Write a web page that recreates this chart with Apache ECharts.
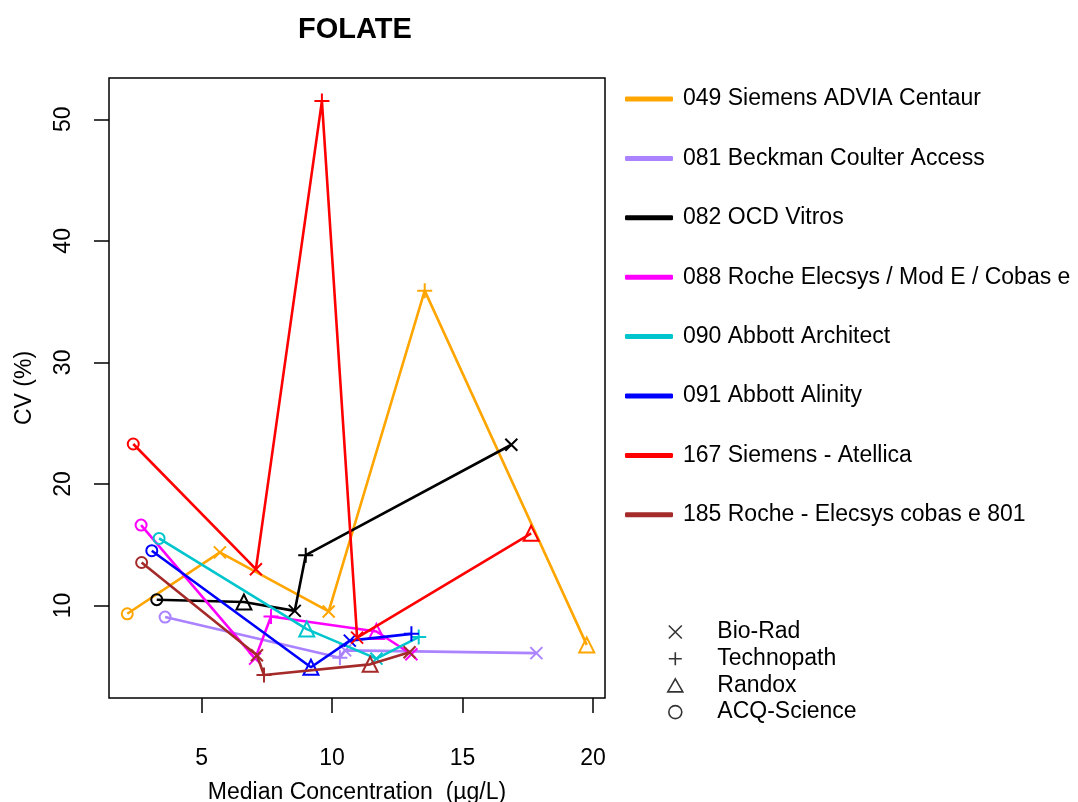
<!DOCTYPE html>
<html>
<head>
<meta charset="utf-8">
<script src="https://cdn.jsdelivr.net/npm/echarts@6/dist/echarts.min.js"></script>
<style>
  html, body { margin: 0; padding: 0; background: #fff; }
  #chart { width: 1078px; height: 802px; }
</style>
</head>
<body>
<div id="chart"></div>
<script>
// methods (legend order) and their colours
const methodNames = [
  '049 Siemens ADVIA Centaur',
  '081 Beckman Coulter Access',
  '082 OCD Vitros',
  '088 Roche Elecsys / Mod E / Cobas e',
  '090 Abbott Architect',
  '091 Abbott Alinity',
  '167 Siemens - Atellica',
  '185 Roche - Elecsys cobas e 801'
]
const methodColors = ['#FFA500', '#AB82FF', '#000000', '#FF00FF', '#00C5CD', '#0000FF', '#FF0000', '#A52A2A']

// control material manufacturers (point shape)
const makers = ['Bio-Rad', 'Technopath', 'Randox', 'ACQ-Science']

// median concentration (ug/L), CV (%), manufacturer per point
const x049 = [2.15, 5.70, 9.87, 13.55, 19.76]
const y049 = [9.31, 14.36, 9.50, 35.90, 6.75]
const m049 = ['ACQ-Science', 'Bio-Rad', 'Bio-Rad', 'Technopath', 'Randox']

const x081 = [3.60, 10.30, 10.50, 17.83]
const y081 = [9.04, 5.70, 6.30, 6.07]
const m081 = ['ACQ-Science', 'Technopath', 'Bio-Rad', 'Bio-Rad']

const x082 = [3.28, 6.62, 8.57, 8.99, 16.87]
const y082 = [10.47, 10.28, 9.55, 14.13, 23.22]
const m082 = ['ACQ-Science', 'Randox', 'Bio-Rad', 'Technopath', 'Bio-Rad']

const x088 = [2.68, 7.05, 7.66, 11.70, 13.04]
const y088 = [16.61, 5.62, 9.08, 7.85, 5.98]
const m088 = ['ACQ-Science', 'Bio-Rad', 'Technopath', 'Randox', 'Bio-Rad']

const x090 = [3.37, 9.03, 11.70, 13.32]
const y090 = [15.51, 8.05, 5.62, 7.39]
const m090 = ['ACQ-Science', 'Randox', 'Bio-Rad', 'Technopath']

const x091 = [3.09, 9.19, 10.68, 13.04]
const y091 = [14.50, 4.91, 7.10, 7.66]
const m091 = ['ACQ-Science', 'Randox', 'Bio-Rad', 'Technopath']

const x167 = [2.38, 7.08, 9.61, 10.96, 17.63]
const y167 = [23.28, 12.98, 51.50, 7.35, 15.93]
const m167 = ['ACQ-Science', 'Bio-Rad', 'Technopath', 'Bio-Rad', 'Randox']

const x185 = [2.70, 7.12, 7.39, 11.46, 12.97]
const y185 = [13.53, 5.90, 4.27, 5.15, 6.15]
const m185 = ['ACQ-Science', 'Bio-Rad', 'Technopath', 'Randox', 'Bio-Rad']

const xTicks = [5, 10, 15, 20]
const yTicks = [10, 20, 30, 40, 50]

const xs = [x049, x081, x082, x088, x090, x091, x167, x185]
const ys = [y049, y081, y082, y088, y090, y091, y167, y185]
const ms = [m049, m081, m082, m088, m090, m091, m167, m185]

const FONT = '"Liberation Sans", Arial, sans-serif'

// open R-like symbols
const shapes = {
  'Bio-Rad': { symbol: 'path://M0,0L10,10M10,0L0,10', size: 12 },
  'Technopath': { symbol: 'path://M5,0L5,10M0,5L10,5', size: 15 },
  'Randox': { symbol: 'path://M5,0L10,8.66L0,8.66Z', size: 15 },
  'ACQ-Science': { symbol: 'circle', size: 11 }
}

let series = methodNames.map((name, i) => ({
  name: name,
  type: 'line',
  showSymbol: true,
  showAllSymbol: true,
  z: 2 + i,
  lineStyle: { color: methodColors[i], width: 2.6 },
  itemStyle: { color: 'rgba(0,0,0,0)', borderColor: methodColors[i], borderWidth: 2 },
  emphasis: { disabled: true },
  data: xs[i].map((x, j) => ({
    value: [x, ys[i][j]],
    symbol: shapes[ms[i][j]].symbol,
    symbolSize: shapes[ms[i][j]].size
  }))
}))
// dummy series so the shape legend exists
makers.forEach(mk => {
  series.push({
    name: mk,
    type: 'scatter',
    symbol: shapes[mk].symbol,
    itemStyle: { color: 'rgba(0,0,0,0)', borderColor: '#000', borderWidth: 1.6 },
    data: []
  })
})

let chart = echarts.init(document.getElementById('chart'), null, { renderer: 'canvas' })
chart.setOption({
  animation: false,
  backgroundColor: '#fff',
  textStyle: { fontFamily: FONT },
  title: {
    text: 'FOLATE',
    left: 298,
    top: 15,
    padding: 0,
    textStyle: { fontFamily: FONT, fontSize: 29, fontWeight: 'bold', color: '#000', lineHeight: 30 }
  },
  grid: {
    left: 109, top: 78, width: 496, height: 620,
    outerBoundsMode: 'none',
    show: true, borderColor: '#000', borderWidth: 1.5, backgroundColor: 'transparent'
  },
  legend: [
    {
      orient: 'vertical',
      left: 625, top: 87, padding: 0,
      itemWidth: 48, itemHeight: 5, itemGap: 35.4,
      selectedMode: false,
      textStyle: { fontFamily: FONT, fontSize: 23, color: '#000', lineHeight: 24, padding: [0, 0, 0, 5] },
      data: methodNames.map((n, i) => ({
        name: n, icon: 'roundRect',
        itemStyle: { color: methodColors[i], borderWidth: 0 }
      }))
    },
    {
      orient: 'vertical',
      left: 667, top: 620, padding: 0,
      itemWidth: 74, itemHeight: 13, itemGap: 2.7,
      selectedMode: false,
      textStyle: { fontFamily: FONT, fontSize: 23, color: '#000', lineHeight: 24 },
      data: makers.map(mk => ({
        name: mk, icon: shapes[mk].symbol,
        itemStyle: { color: 'rgba(0,0,0,0)', borderColor: '#000', borderWidth: 1.6 }
      }))
    }
  ],
  xAxis: {
    type: 'value',
    min: 1.45, max: 20.46,
    name: 'Median Concentration  (µg/L)',
    nameLocation: 'middle', nameGap: 83,
    nameTextStyle: { fontFamily: FONT, fontSize: 23, color: '#000' },
    axisLine: { show: false },
    splitLine: { show: false },
    axisTick: { show: true, length: 15, customValues: xTicks, lineStyle: { color: '#000', width: 1.5 } },
    axisLabel: { customValues: xTicks, margin: 49, fontFamily: FONT, fontSize: 23, color: '#000' }
  },
  yAxis: {
    type: 'value',
    min: 2.38, max: 53.4,
    name: 'CV (%)',
    nameLocation: 'middle', nameGap: 73, nameRotate: 90,
    nameTextStyle: { fontFamily: FONT, fontSize: 23, color: '#000' },
    axisLine: { show: false },
    splitLine: { show: false },
    axisTick: { show: true, length: 15, customValues: yTicks, lineStyle: { color: '#000', width: 1.5 } },
    axisLabel: { customValues: yTicks, rotate: 90, margin: 34, fontFamily: FONT, fontSize: 23, color: '#000' }
  },
  series: series
})
</script>
</body>
</html>
